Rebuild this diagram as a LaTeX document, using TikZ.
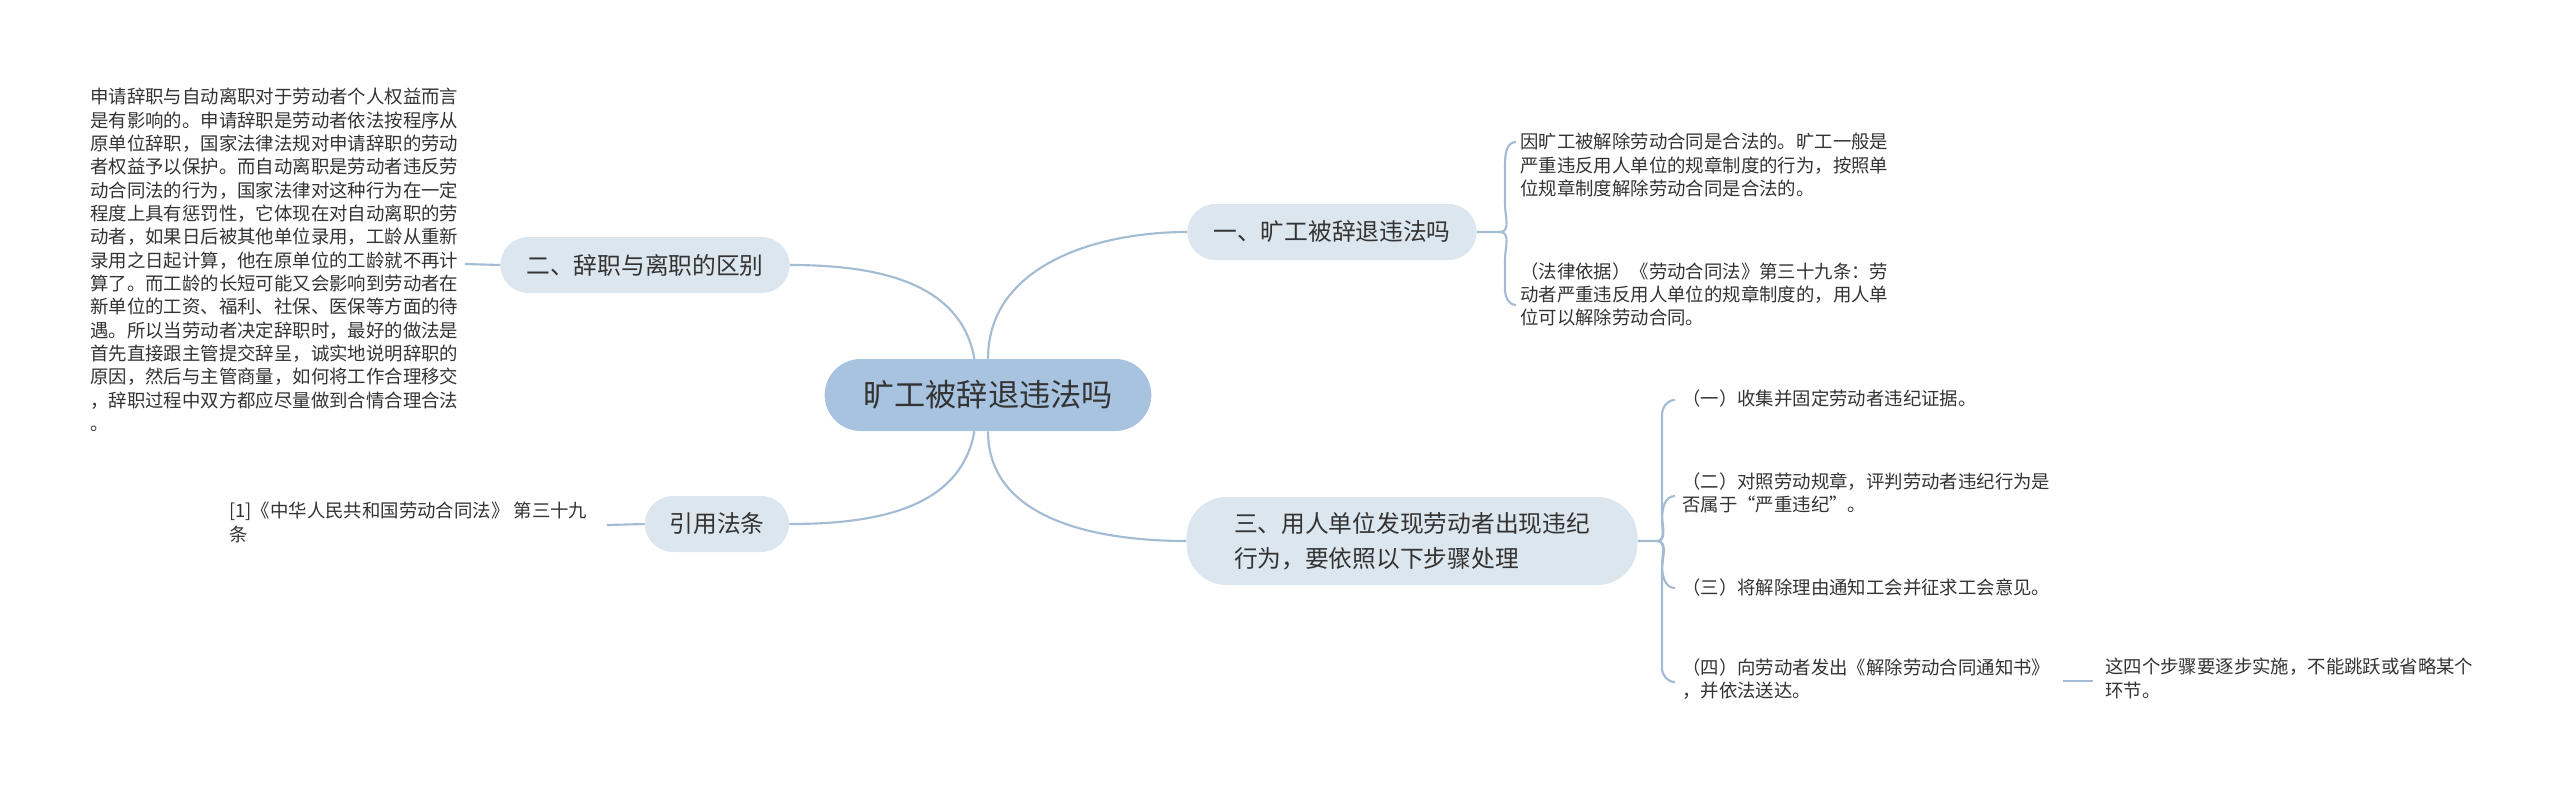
\documentclass[tikz,border=0pt]{standalone}
\usepackage{fontspec}
\setmainfont{Noto Sans CJK SC}
\definecolor{ln}{HTML}{A3BCD4}
\definecolor{cf}{HTML}{A8C3DF}
\definecolor{bf}{HTML}{DCE6EE}
\definecolor{tx}{HTML}{333333}
\begin{document}
\begin{tikzpicture}[x=0.75pt,y=-0.75pt,
  conn/.style={draw=ln,line width=1.6pt},
  center/.style={fill=cf,rounded corners=27pt,minimum width=245pt,minimum height=54pt,text=tx,font=\fontsize{23.4}{28}\selectfont},
  branch/.style={fill=bf,rounded corners=21pt,minimum height=42pt,text=tx,font=\fontsize{17.8}{26}\selectfont,inner xsep=12pt},
  leaf/.style={anchor=north west,align=left,text=tx,inner sep=0pt,font=\fontsize{13.8}{17.5}\selectfont}]
\path[use as bounding box] (0,0) rectangle (2560,793);
\node[center] (c) at (988,395) {旷工被辞退违法吗};
\node[branch,minimum width=217pt] (b1) at (1332,232) {一、旷工被辞退违法吗};
\node[branch,minimum width=217pt] (b2) at (645,265) {二、辞职与离职的区别};
\node[branch,minimum width=108pt] (b4) at (717,524) {引用法条};
\node[branch,minimum width=338pt,minimum height=66pt,rounded corners=30pt,align=left] (b3) at (1412,541) {三、用人单位发现劳动者出现违纪\\行为，要依照以下步骤处理};
% left leaf
\node[leaf] (l2) at (90,88) {申请辞职与自动离职对于劳动者个人权益而言\\是有影响的。申请辞职是劳动者依法按程序从\\原单位辞职，国家法律法规对申请辞职的劳动\\者权益予以保护。而自动离职是劳动者违反劳\\动合同法的行为，国家法律对这种行为在一定\\程度上具有惩罚性，它体现在对自动离职的劳\\动者，如果日后被其他单位录用，工龄从重新\\录用之日起计算，他在原单位的工龄就不再计\\算了。而工龄的长短可能又会影响到劳动者在\\新单位的工资、福利、社保、医保等方面的待\\遇。所以当劳动者决定辞职时，最好的做法是\\首先直接跟主管提交辞呈，诚实地说明辞职的\\原因，然后与主管商量，如何将工作合理移交\\，辞职过程中双方都应尽量做到合情合理合法\\。};
\coordinate (l2e) at (465,264);
\node[leaf] (l4) at (229,502) {[1]《中华人民共和国劳动合同法》 第三十九\\条};
\coordinate (l4e) at (607,525);
% branch1 leaves
\node[leaf] (a1) at (1520,133) {因旷工被解除劳动合同是合法的。旷工一般是\\严重违反用人单位的规章制度的行为，按照单\\位规章制度解除劳动合同是合法的。};
\node[leaf] (a2) at (1520,262) {（法律依据）《劳动合同法》第三十九条：劳\\动者严重违反用人单位的规章制度的，用人单\\位可以解除劳动合同。};
% branch3 leaves
\node[leaf] (s1) at (1682,389) {（一）收集并固定劳动者违纪证据。};
\node[leaf] (s2) at (1682,472) {（二）对照劳动规章，评判劳动者违纪行为是\\否属于“严重违纪”。};
\node[leaf] (s3) at (1682,578) {（三）将解除理由通知工会并征求工会意见。};
\node[leaf] (s4) at (1682,658) {（四）向劳动者发出《解除劳动合同通知书》\\，并依法送达。};
\node[leaf] (s5) at (2105,658) {这四个步骤要逐步实施，不能跳跃或省略某个\\环节。};
% connectors
\draw[conn] (c.north) ++(0,0) to[out=90,in=180] (b1.west);
\draw[conn] (c.south) to[out=-90,in=180] (b3.west);
\draw[conn] (c.north west) ++(150,0) to[out=100,in=0] (b2.east);
\draw[conn] (c.south west) ++(150,0) to[out=-100,in=0] (b4.east);
\draw[conn] (l2e) -- (b2.west);
\draw[conn] (l4e) -- (b4.west);
\coordinate (k1) at (1500,232);
\draw[conn] (b1.east) -- (k1) to[out=0,in=-90] (1505,205) -- (1505,165) to[out=90,in=180] (1516,142);
\draw[conn] (k1) to[out=0,in=90] (1505,259) -- (1505,290) to[out=-90,in=180] (1516,305);
\coordinate (k3) at (1657,541);
\draw[conn] (b3.east) -- (k3) to[out=0,in=-90] (1662,515) -- (1662,415) to[out=90,in=180] (1675,400);
\draw[conn] (k3) to[out=0,in=-90] (1662,520) to[out=90,in=180] (1675,496);
\draw[conn] (k3) to[out=0,in=90] (1662,565) to[out=-90,in=180] (1675,588);
\draw[conn] (k3) to[out=0,in=90] (1662,570) -- (1662,668) to[out=-90,in=180] (1675,682);
\draw[conn] (2063,681) -- (2093,681);
\end{tikzpicture}
\end{document}
